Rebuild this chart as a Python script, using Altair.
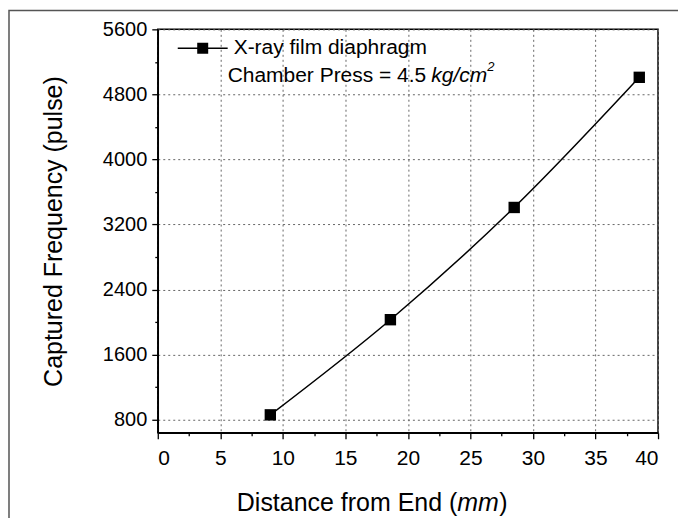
import altair as alt
import pandas as pd

# ---- data ----
distance = [9.0, 18.6, 28.5, 38.5]
frequency = [860, 2030, 3410, 5010]
series_name = "X-ray film diaphragm"
x_tick_values = [0, 2.5, 5, 7.5, 10, 12.5, 15, 17.5, 20, 22.5, 25, 27.5, 30, 32.5, 35, 37.5, 40]
y_tick_values = [800, 1200, 1600, 2000, 2400, 2800, 3200, 3600, 4000, 4400, 4800, 5200, 5600]
x_domain = [0, 40]
y_domain = [640, 5600]
y_title = "Captured Frequency (pulse)"
x_title_parts = ["Distance from End (", "mm", ")"]
note_parts = ["Chamber Press = 4.5 ", "kg/cm", "2"]

df = pd.DataFrame({
    "distance": distance,
    "frequency": frequency,
    "series": [series_name] * len(distance),
})

FONT = "Liberation Sans"
W, H = 501, 404
major_x = "datum.value % 5 === 0"
major_y = "datum.value % 800 === 0"

x_axis = alt.Axis(
    values=x_tick_values,
    title=None,
    labelExpr=f"{major_x} ? datum.label : ''",
    labelOverlap=False,
    labelFont=FONT, labelFontSize=21, labelColor="black", labelPadding=9,
    tickSize={"condition": {"test": major_x, "value": 6}, "value": 3},
    tickColor="black", tickWidth=1.3,
    domainColor="black", domainWidth=1.5,
    grid=True,
    gridOpacity={"condition": {"test": major_x, "value": 1}, "value": 0},
    gridColor="#666666", gridDash=[2, 3], gridWidth=1,
)

y_axis = alt.Axis(
    values=y_tick_values,
    title=y_title,
    titleFont=FONT, titleFontSize=25, titleFontWeight="normal", titleColor="black",
    titlePadding=36,
    labelExpr=f"{major_y} ? datum.label : ''",
    format="d",
    labelOverlap=False,
    labelFont=FONT, labelFontSize=20, labelColor="black", labelPadding=5,
    tickSize={"condition": {"test": major_y, "value": 6}, "value": 3},
    tickColor="black", tickWidth=1.3,
    domainColor="black", domainWidth=1.5,
    grid=True,
    gridOpacity={"condition": {"test": major_y, "value": 1}, "value": 0},
    gridColor="#666666", gridDash=[2, 3], gridWidth=1,
)

x_enc = alt.X("distance:Q", scale=alt.Scale(domain=x_domain, nice=False, zero=False), axis=x_axis)
y_enc = alt.Y("frequency:Q", scale=alt.Scale(domain=y_domain, nice=False, zero=False), axis=y_axis)

legend_symbol = "M-1,0L1,0M-0.19,-0.19L0.19,-0.19L0.19,0.19L-0.19,0.19Z"
color_enc = alt.Color(
    "series:N",
    scale=alt.Scale(range=["black"]),
    legend=alt.Legend(
        title=None, orient="none", legendX=19, legendY=-7, padding=0,
        symbolType=legend_symbol, symbolSize=2500, symbolStrokeWidth=1.5,
        symbolFillColor="black", symbolStrokeColor="black",
        labelFont=FONT, labelFontSize=21, labelColor="black", labelOffset=5,
        labelLimit=0,
    ),
)

base = alt.Chart(df)
line = base.mark_line(interpolate="monotone", strokeWidth=1.5).encode(x=x_enc, y=y_enc, color=color_enc)
points = base.mark_square(size=130, filled=True, opacity=1).encode(x=x_enc, y=y_enc, color=color_enc)

one = alt.InlineData(values=[{"k": 1}])
note1 = alt.Chart(one).mark_text(
    text=note_parts[0], font=FONT, fontSize=21, align="left", baseline="middle", color="black"
).encode(x=alt.value(70), y=alt.value(47))
note2 = alt.Chart(one).mark_text(
    text=note_parts[1], font=FONT, fontSize=21, fontStyle="italic", align="left", baseline="middle", color="black"
).encode(x=alt.value(274), y=alt.value(47))
note3 = alt.Chart(one).mark_text(
    text=note_parts[2], font=FONT, fontSize=13, fontStyle="italic", align="left", baseline="middle", color="black"
).encode(x=alt.value(330), y=alt.value(38))

xt1 = alt.Chart(one).mark_text(
    text=x_title_parts[0], font=FONT, fontSize=25, align="right", baseline="middle", color="black"
).encode(x=alt.value(300), y=alt.value(H + 70))
xt2 = alt.Chart(one).mark_text(
    text=x_title_parts[1], font=FONT, fontSize=25, fontStyle="italic", align="left", baseline="middle", color="black"
).encode(x=alt.value(300), y=alt.value(H + 70))
xt3 = alt.Chart(one).mark_text(
    text=x_title_parts[2], font=FONT, fontSize=25, align="left", baseline="middle", color="black"
).encode(x=alt.value(342), y=alt.value(H + 70))

border = alt.Chart(one).mark_rect(
    fill=None, fillOpacity=0, stroke="#555555", strokeWidth=1.5, clip=False
).encode(x=alt.value(-149), x2=alt.value(W + 200), y=alt.value(-19), y2=alt.value(H + 200))

chart = alt.layer(
    border, line, points, note1, note2, note3, xt1, xt2, xt3
).properties(
    width=W, height=H,
    autosize=alt.AutoSizeParams(type="none"),
    padding={"left": 150, "top": 21, "right": 20, "bottom": 85},
    background="white",
).configure_view(
    stroke="black", strokeWidth=1.5
)

chart.save("out.html", embed_options={"renderer": "svg", "actions": False})
